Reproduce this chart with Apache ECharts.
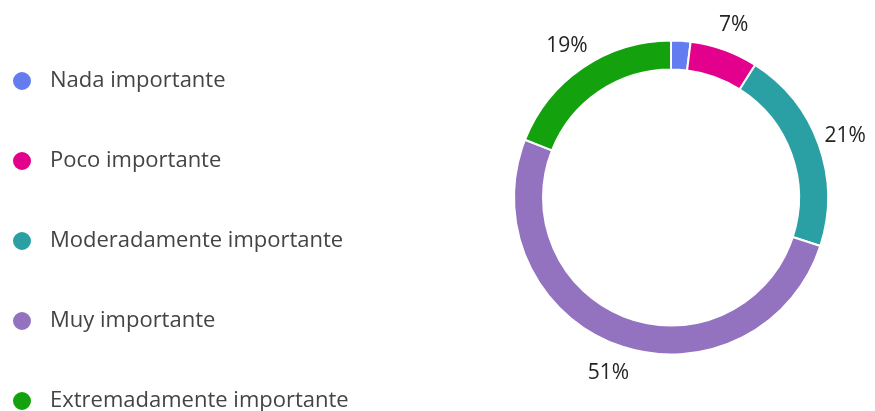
<!DOCTYPE html>
<html>
<head>
<meta charset="utf-8">
<script src="https://cdn.jsdelivr.net/npm/echarts@6/dist/echarts.min.js"></script>
<style>
  html, body { margin: 0; padding: 0; background: #ffffff; }
  #chart { width: 875px; height: 411px; }
</style>
</head>
<body>
<div id="chart"></div>
<script>
// Response categories and their share of answers (%)
const categories = [
  'Nada importante',
  'Poco importante',
  'Moderadamente importante',
  'Muy importante',
  'Extremadamente importante'
];
const values = [2, 7, 21, 51, 19];
const colors = ['#637CEF', '#E3008C', '#2AA0A4', '#9373C0', '#13A10E'];
// Slices below this share get no percentage label
const labelMinValue = 5;

const FONT = '"Open Sans", "Noto Sans", sans-serif';

const ringData = categories.map((name, i) => ({
  name: name,
  value: values[i],
  itemStyle: { color: colors[i] }
}));

// Transparent outer ring that only carries the percentage labels
const labelData = categories.map((name, i) => ({
  name: name,
  value: values[i],
  itemStyle: { color: 'rgba(0,0,0,0)' },
  label: { show: values[i] >= labelMinValue }
}));

const chart = echarts.init(document.getElementById('chart'), null, { renderer: 'canvas' });

chart.setOption({
  animation: false,
  color: colors,
  legend: {
    orient: 'vertical',
    left: 6,
    top: 65,
    height: 400,
    itemGap: 58,
    itemWidth: 20,
    itemHeight: 20,
    icon: 'circle',
    selectedMode: false,
    data: categories,
    textStyle: {
      fontFamily: FONT,
      fontSize: 22,
      color: '#444444',
      lineHeight: 20,
      padding: [0, 0, 0, 13]
    }
  },
  series: [
    {
      type: 'pie',
      center: [671, 197.5],
      radius: [128, 157],
      startAngle: 90,
      clockwise: true,
      avoidLabelOverlap: false,
      silent: true,
      label: { show: false },
      labelLine: { show: false },
      itemStyle: { borderColor: '#ffffff', borderWidth: 2 },
      data: ringData
    },
    {
      type: 'pie',
      center: [671, 199],
      radius: [172, 192],
      startAngle: 90,
      clockwise: true,
      avoidLabelOverlap: false,
      silent: true,
      label: {
        position: 'inside',
        formatter: (p) => p.value + '%',
        fontFamily: FONT,
        fontSize: 21,
        color: '#252423'
      },
      labelLine: { show: false },
      data: labelData
    }
  ]
});
</script>
</body>
</html>
